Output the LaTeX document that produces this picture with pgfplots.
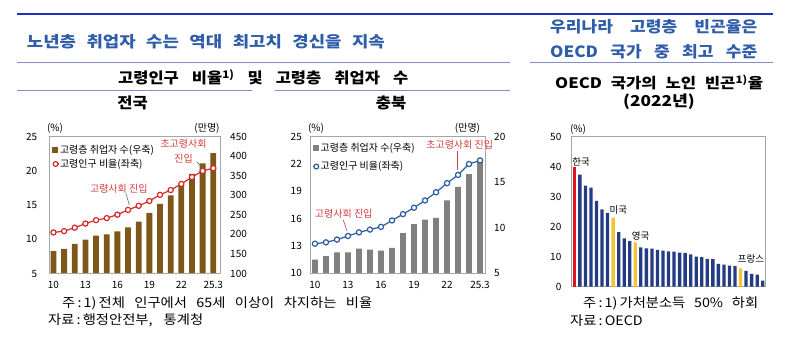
\documentclass[border=0pt]{standalone}
\usepackage{fontspec}
\setmainfont{Noto Sans CJK KR}
\newfontfamily\hdr{Noto Sans CJK KR}[FakeStretch=1.1]
\newfontfamily\hdrw{Noto Sans CJK KR}[FakeStretch=1.15]
\usepackage{pgfplots}
\usepackage{pgfplotstable}
\pgfplotsset{compat=1.18}

\definecolor{topblue}{HTML}{1F2FBF}
\definecolor{titleblue}{HTML}{2F5DAA}
\definecolor{rulec}{HTML}{7F8FC8}
\definecolor{framegray}{HTML}{A6A6A6}
\definecolor{brownbar}{HTML}{7F5819}
\definecolor{graybar}{HTML}{808080}
\definecolor{redline}{HTML}{D42A2A}
\definecolor{blueline}{HTML}{2B5C9E}
\definecolor{annred}{HTML}{D43A3A}
\definecolor{navybar}{HTML}{233C84}
\definecolor{korred}{HTML}{E0141E}
\definecolor{yelbar}{HTML}{F0C53A}

\newcommand{\fs}[1]{\fontsize{#1}{#1}\selectfont}

\pgfplotstableread{
x emp ratio
0 157 11.0
1 163 11.2
2 176 11.7
3 187 12.3
4 197 12.8
5 200 13.1
6 208 13.6
7 218 14.3
8 233 14.9
9 255 15.6
10 278 16.5
11 300 17.2
12 327 18.1
13 355 19.1
14 382 20.0
15 408 20.4
}\natdata

\pgfplotstableread{
x emp ratio
0 6.5 13.25
1 6.9 13.4
2 7.3 13.7
3 7.3 14.1
4 7.7 14.5
5 7.6 14.8
6 7.5 15.1
7 7.8 15.8
8 9.4 16.5
9 10.4 17.2
10 10.9 18.0
11 11.1 18.9
12 13.0 19.9
13 14.5 20.8
14 15.9 22.0
15 17.3 22.4
}\cbdata

\pgfplotsset{
  mybase/.style={
    scale only axis,
    anchor=south west,
    axis line style={draw=framegray, line width=0.6pt},
    major tick length=0pt,
    tick label style={font=\fs{10}, inner sep=0pt},
    /pgf/number format/assume math mode=true,
  },
  brownleg/.style={legend image code/.code={\fill[brownbar] (0pt,-2.5pt) rectangle (4.6pt,2.5pt);}},
  grayleg/.style={legend image code/.code={\fill[graybar] (0pt,-2.5pt) rectangle (4.6pt,2.5pt);}},
  redleg/.style={legend image code/.code={\draw[redline, line width=1.2pt, mark=*, mark size=2.4pt, mark options={fill=white}, mark repeat=2, mark phase=2] plot coordinates {(0pt,0pt) (3pt,0pt) (6pt,0pt)};}},
  blueleg/.style={legend image code/.code={\draw[blueline, line width=1.2pt, mark=*, mark size=2.4pt, mark options={fill=white}, mark repeat=2, mark phase=2] plot coordinates {(0pt,0pt) (3pt,0pt) (6pt,0pt)};}},
  mylegend/.style={legend style={draw=none, fill=none, at={(0,1)}, anchor=north west, xshift=2.5pt, yshift=-7pt, font=\fs{10}, inner sep=0pt, row sep=3pt, nodes={inner sep=0.8pt}}, legend cell align=left},
}

\begin{document}
\begin{tikzpicture}
\path[use as bounding box] (0pt,0pt) rectangle (792pt,-360pt);

% ---------- headers ----------
\draw[topblue, line width=2.7pt] (17pt,-14pt) -- (773pt,-14pt);
\draw[rulec, line width=0.9pt] (17pt,-62.7pt) -- (510pt,-62.7pt);
\draw[rulec, line width=0.9pt] (530pt,-62.7pt) -- (773pt,-62.7pt);
\draw[rulec, line width=0.9pt] (17pt,-90pt) -- (252pt,-90pt);
\draw[rulec, line width=0.9pt] (275pt,-90pt) -- (510pt,-90pt);

\node[anchor=west, inner sep=0pt, text=titleblue, font=\hdrw\fs{15.5}\bfseries] at (26.7pt,-42pt) {\makebox[358pt][s]{노년층 취업자 수는 역대 최고치 경신을 지속}};
\node[anchor=west, inner sep=0pt, font=\hdr\fs{15}\bfseries] at (118pt,-77pt) {\makebox[290pt][s]{고령인구 비율\textsuperscript{1)} 및 고령층 취업자 수}};
\node[inner sep=0pt, font=\hdr\fs{15}\bfseries] at (132.5pt,-103pt) {전국};
\node[inner sep=0pt, font=\hdr\fs{15}\bfseries] at (391pt,-103pt) {충북};

\node[anchor=west, inner sep=0pt, text=titleblue, font=\hdr\fs{15.5}\bfseries] at (550pt,-27pt) {\makebox[207pt][s]{우리나라 고령층 빈곤율은}};
\node[anchor=west, inner sep=0pt, text=titleblue, font=\hdr\fs{15.5}\bfseries] at (550pt,-51.5pt) {\makebox[207pt][s]{OECD 국가 중 최고 수준}};
\node[anchor=west, inner sep=0pt, font=\hdrw\fs{14.5}\bfseries] at (555pt,-82.5pt) {\makebox[208pt][s]{OECD 국가의 노인 빈곤\textsuperscript{1)}율}};
\node[inner sep=0pt, font=\hdrw\fs{15}\bfseries] at (659pt,-102pt) {(2022년)};

% ---------- chart 1 : national ----------
\begin{axis}[mybase, at={(49.3pt,-273.5pt)}, width=170.7pt, height=136.8pt,
  xmin=-0.39, xmax=15.63, ymin=100, ymax=450, ytick={100,150,...,450},
  axis y line*=right, axis x line=none,
  yticklabel style={anchor=west, xshift=10pt}]
\addplot[ybar, bar width=5.8pt, bar shift=0pt, fill=brownbar, draw=none] table[x=x,y=emp]{\natdata};
\end{axis}
\begin{axis}[mybase, mylegend, at={(49.3pt,-273.5pt)}, width=170.7pt, height=136.8pt,
  xmin=-0.39, xmax=15.63, ymin=5, ymax=25, ytick={5,10,...,25},
  xtick={0,3,6,9,12,15}, xticklabels={10,13,16,19,22,25.3},
  yticklabel style={anchor=east, xshift=-12pt},
  xticklabel style={anchor=north, yshift=-8pt}]
\addlegendimage{brownleg}
\addlegendentry{고령층 취업자 수(우축)}
\addlegendimage{redleg}
\addlegendentry{고령인구 비율(좌축)}
\addplot[forget plot, draw=redline, line width=1.2pt, mark=*, mark size=2.6pt, mark options={fill=white, draw=redline, line width=1.2pt}] table[x=x,y=ratio]{\natdata};
\end{axis}
\node[inner sep=0pt, font=\fs{10}] at (55pt,-128pt) {(\%)};
\node[inner sep=0pt, font=\fs{10}] at (207pt,-128pt) {(만명)};
\node[inner sep=0pt, font=\fontsize{10}{15}\selectfont, text=annred, align=center] at (183.5pt,-151.5pt) {초고령사회\\진입};
\draw[gray!80!black, line width=0.6pt] (196.7pt,-161.7pt) -- (203pt,-168.5pt);
\node[inner sep=0pt, font=\fs{10}, text=annred] at (118.8pt,-188.3pt) {고령사회 진입};
\draw[gray!80!black, line width=0.6pt] (126pt,-193.5pt) -- (129.3pt,-205pt);

% ---------- chart 2 : Chungbuk ----------
\begin{axis}[mybase, at={(310pt,-273.3pt)}, width=175pt, height=136.6pt,
  xmin=-0.45, xmax=15.45, ymin=5, ymax=20, ytick={5,10,15,20},
  axis y line*=right, axis x line=none,
  yticklabel style={anchor=west, xshift=9pt}]
\addplot[ybar, bar width=5.8pt, bar shift=0pt, fill=graybar, draw=none] table[x=x,y=emp]{\cbdata};
\end{axis}
\begin{axis}[mybase, mylegend, at={(310pt,-273.3pt)}, width=175pt, height=136.6pt,
  xmin=-0.45, xmax=15.45, ymin=10, ymax=25, ytick={10,13,16,19,22,25},
  xtick={0,3,6,9,12,15}, xticklabels={10,13,16,19,22,25.3},
  yticklabel style={anchor=east, xshift=-8pt},
  xticklabel style={anchor=north, yshift=-8pt},
  legend style={yshift=1.5pt, row sep=7pt}]
\addlegendimage{grayleg}
\addlegendentry{고령층 취업자 수(우축)}
\addlegendimage{blueleg}
\addlegendentry{고령인구 비율(좌축)}
\addplot[forget plot, draw=blueline, line width=1.2pt, mark=*, mark size=2.6pt, mark options={fill=white, draw=blueline, line width=1.2pt}] table[x=x,y=ratio]{\cbdata};
\end{axis}
\node[inner sep=0pt, font=\fs{10}] at (316pt,-128pt) {(\%)};
\node[inner sep=0pt, font=\fs{10}] at (467.5pt,-128pt) {(만명)};
\node[inner sep=0pt, font=\fs{10}, text=annred] at (459.7pt,-144.3pt) {초고령사회 진입};
\draw[annred, line width=0.6pt] (457.5pt,-151pt) -- (457.5pt,-169.5pt);
\node[inner sep=0pt, font=\fs{10}, text=annred] at (343.7pt,-213.3pt) {고령사회 진입};
\draw[annred, line width=0.6pt] (343.3pt,-220pt) -- (347pt,-231pt);

% ---------- chart 3 : OECD ----------
\begin{axis}[mybase, at={(571pt,-286.7pt)}, width=194.7pt, height=150pt,
  xmin=0.4, xmax=35.54, ymin=0, ymax=50, ytick={0,10,...,50}, xtick=\empty,
  yticklabel style={anchor=east, xshift=-9.5pt}]
\addplot[ybar, bar width=3.3pt, bar shift=0pt, fill=navybar, draw=none] coordinates {
(2,37.4)(3,33.7)(4,33.0)(5,28.6)(6,25.8)(7,24.6)(9,18.2)(10,16.1)(11,15.2)
(13,13.1)(14,12.8)(15,12.7)(16,12.3)(17,12.0)(18,11.8)(19,11.7)(20,11.4)(21,11.3)
(22,10.8)(23,10.0)(24,9.9)(25,9.3)(26,9.2)(27,7.6)(28,7.4)(29,7.0)(30,6.9)
(32,5.3)(33,4.3)(34,4.0)(35,2.0)};
\addplot[ybar, bar width=3.3pt, bar shift=0pt, fill=korred, draw=none] coordinates {(1,39.8)};
\addplot[ybar, bar width=3.3pt, bar shift=0pt, fill=yelbar, draw=none] coordinates {(8,23.0)(12,14.8)(31,6.1)};
\end{axis}
\node[inner sep=0pt, font=\fs{10}] at (578pt,-129pt) {(\%)};
\node[inner sep=0pt, font=\fs{9.5}] at (581pt,-161.7pt) {한국};
\node[inner sep=0pt, font=\fs{9.5}] at (618.3pt,-210pt) {미국};
\node[inner sep=0pt, font=\fs{9.5}] at (640.5pt,-236pt) {영국};
\node[inner sep=0pt, font=\fs{9.5}] at (751pt,-259.3pt) {프랑스};

% ---------- footnotes ----------
\node[anchor=west, inner sep=0pt, font=\hdr\fs{13}] at (62pt,-303pt) {\makebox[310pt][s]{주\,:\,1)\,전체 인구에서 65세 이상이 차지하는 비율}};
\node[anchor=west, inner sep=0pt, font=\hdr\fs{13}] at (48pt,-320.5pt) {\makebox[155pt][s]{자료\,:\,행정안전부, 통계청}};
\node[anchor=west, inner sep=0pt, font=\hdr\fs{13}] at (583pt,-303pt) {\makebox[175pt][s]{주\,:\,1)\,가처분소득 50\% 하회}};
\node[anchor=west, inner sep=0pt, font=\hdr\fs{13}] at (570pt,-320.5pt) {자료\,:\,OECD};
\end{tikzpicture}
\end{document}
